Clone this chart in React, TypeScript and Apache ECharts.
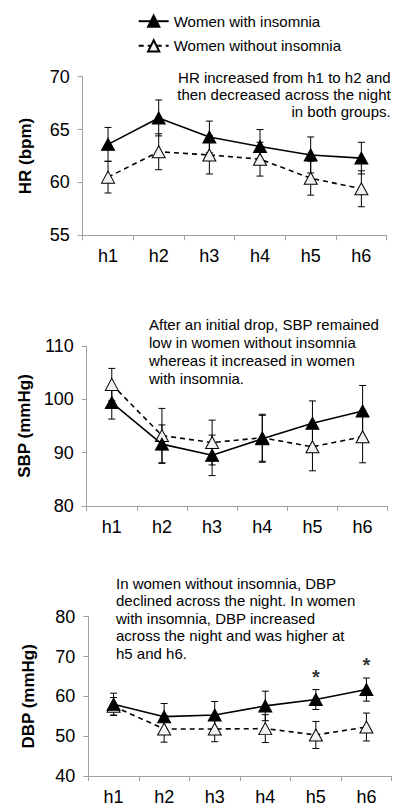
import React, { useEffect, useRef } from 'react';
import * as echarts from 'echarts';

const hours = ['h1', 'h2', 'h3', 'h4', 'h5', 'h6'];
const seriesNames = ['Women with insomnia', 'Women without insomnia'];

const hrWith = [63.6, 66.1, 64.3, 63.4, 62.6, 62.3];
const hrWithErr = [1.6, 1.7, 1.5, 1.6, 1.7, 1.5];
const hrWithout = [60.5, 62.9, 62.6, 62.2, 60.4, 59.4];
const hrWithoutErr = [1.5, 1.7, 1.8, 1.6, 1.6, 1.7];

const sbpWith = [99.4, 91.6, 89.5, 92.6, 95.5, 97.8];
const sbpWithErr = [3.1, 3.6, 3.8, 4.4, 4.2, 4.8];
const sbpWithout = [102.8, 93.2, 91.9, 92.8, 91.1, 93.0];
const sbpWithoutErr = [3.0, 5.1, 4.2, 4.4, 4.5, 4.9];

const dbpWith = [58.0, 54.9, 55.3, 57.6, 59.2, 61.7];
const dbpWithErr = [2.8, 3.3, 3.4, 3.7, 2.5, 2.9];
const dbpWithout = [57.5, 51.8, 51.8, 51.9, 50.3, 52.3];
const dbpWithoutErr = [2.2, 3.3, 3.2, 3.5, 3.4, 3.5];
const dbpSignificance = ['', '', '', '', '*', '*'];

const yNames = ['HR (bpm)', 'SBP (mmHg)', 'DBP (mmHg)'];
const yMin = [55, 80, 40];
const yMax = [70, 110, 80];
const yInterval = [5, 10, 10];

const notes = [
  'HR increased from h1 to h2 and\nthen decreased across the night\nin both groups.',
  'After an initial drop, SBP remained\nlow in women without insomnia\nwhereas it increased in women\nwith insomnia.',
  'In women without insomnia, DBP\ndeclined across the night. In women\nwith insomnia, DBP increased\nacross the night and was higher at\nh5 and h6.',
];

const FONT = '"Liberation Sans", Arial, sans-serif';

function errorSeries(gridIdx: number, values: number[], errs: number[]) {
  return {
    type: 'custom',
    name: 'err' + gridIdx,
    xAxisIndex: gridIdx,
    yAxisIndex: gridIdx,
    z: 1,
    silent: true,
    data: values.map((v, i) => [i, v - errs[i], v + errs[i]]),
    encode: { x: 0, y: [1, 2] },
    renderItem: (params: any, api: any) => {
      const x = api.value(0);
      const lo = api.coord([x, api.value(1)]);
      const hi = api.coord([x, api.value(2)]);
      const w = 3.5;
      const st = { stroke: '#000', lineWidth: 1 };
      return {
        type: 'group',
        children: [
          { type: 'line', shape: { x1: lo[0], y1: lo[1], x2: hi[0], y2: hi[1] }, style: st },
          { type: 'line', shape: { x1: lo[0] - w, y1: lo[1], x2: lo[0] + w, y2: lo[1] }, style: st },
          { type: 'line', shape: { x1: hi[0] - w, y1: hi[1], x2: hi[0] + w, y2: hi[1] }, style: st },
        ],
      };
    },
  };
}

function lineSeries(gridIdx: number, values: number[], filled: boolean) {
  return {
    type: 'line',
    name: filled ? seriesNames[0] : seriesNames[1],
    xAxisIndex: gridIdx,
    yAxisIndex: gridIdx,
    z: filled ? 4 : 3,
    data: values,
    symbol: 'triangle',
    symbolSize: [13, 12],
    lineStyle: { color: '#000', width: 1.6, type: filled ? 'solid' : [5, 4] },
    itemStyle: filled
      ? { color: '#000', borderColor: '#000', borderWidth: 1 }
      : { color: '#f2f2f2', borderColor: '#000', borderWidth: 1 },
    emphasis: { disabled: true },
  };
}

export default function App() {
  const ref = useRef<HTMLDivElement>(null);
  useEffect(() => {
    if (!ref.current) return;
    const chart = echarts.init(ref.current, undefined, { renderer: 'svg' });
    const grids = [
      { left: 82.7, right: 9.3, top: 76.7, height: 158.6 },
      { left: 86.7, right: 8.3, top: 346, height: 160 },
      { left: 88.3, right: 4.3, top: 616.7, height: 159.3 },
    ];
    const nameGaps = [49, 53, 51];
    const axisColor = '#a0a0a0';
    const xAxes = grids.map((_, i) => ({
      type: 'category',
      gridIndex: i,
      data: hours,
      boundaryGap: true,
      axisLine: { lineStyle: { color: axisColor, width: 1 } },
      axisTick: { show: true, length: 5, lineStyle: { color: axisColor } },
      axisLabel: { fontSize: 18, color: '#000', margin: 12, fontFamily: FONT },
    }));
    const yAxes = grids.map((_, i) => ({
      type: 'value',
      gridIndex: i,
      min: yMin[i],
      max: yMax[i],
      interval: yInterval[i],
      name: yNames[i],
      nameLocation: 'middle',
      nameGap: nameGaps[i],
      nameTextStyle: { fontSize: 17, fontWeight: 'bold', color: '#000', fontFamily: FONT },
      splitLine: { show: false },
      axisLine: { show: true, lineStyle: { color: axisColor, width: 1 } },
      axisTick: { show: true, length: 5, lineStyle: { color: axisColor } },
      axisLabel: { fontSize: 18, color: '#000', margin: 13, fontFamily: FONT },
    }));
    const sigData = dbpWith.map((v, i) => (dbpSignificance[i] ? [i, v + dbpWithErr[i]] : null)).filter(Boolean);
    chart.setOption({
      animation: false,
      textStyle: { fontFamily: FONT },
      legend: {
        data: seriesNames,
        orient: 'vertical',
        left: 132.7,
        top: 8.7,
        itemWidth: 30,
        itemHeight: 14,
        itemGap: 9.6,
        textStyle: { fontSize: 15, color: '#000', fontFamily: FONT },
        selectedMode: false,
      },
      grid: grids,
      xAxis: xAxes,
      yAxis: yAxes,
      series: [
        errorSeries(0, hrWithout, hrWithoutErr),
        errorSeries(0, hrWith, hrWithErr),
        lineSeries(0, hrWithout, false),
        lineSeries(0, hrWith, true),
        errorSeries(1, sbpWithout, sbpWithoutErr),
        errorSeries(1, sbpWith, sbpWithErr),
        lineSeries(1, sbpWithout, false),
        lineSeries(1, sbpWith, true),
        errorSeries(2, dbpWithout, dbpWithoutErr),
        errorSeries(2, dbpWith, dbpWithErr),
        lineSeries(2, dbpWithout, false),
        lineSeries(2, dbpWith, true),
        {
          type: 'scatter',
          name: 'significance',
          xAxisIndex: 2,
          yAxisIndex: 2,
          symbolSize: 0,
          silent: true,
          data: sigData,
          label: {
            show: true,
            position: 'top',
            distance: 3,
            formatter: () => '*',
            fontSize: 20,
            fontWeight: 'bold',
            color: '#000',
            fontFamily: FONT,
          },
        },
      ],
      graphic: [
        {
          type: 'text',
          x: 390.7,
          y: 68.7,
          style: {
            text: notes[0],
            align: 'right',
            verticalAlign: 'top',
            fontSize: 15,
            lineHeight: 17.3,
            fill: '#000',
            fontFamily: FONT,
          },
        },
        {
          type: 'text',
          x: 149,
          y: 316,
          style: {
            text: notes[1],
            align: 'left',
            verticalAlign: 'top',
            fontSize: 15,
            lineHeight: 17.8,
            fill: '#000',
            fontFamily: FONT,
          },
        },
        {
          type: 'text',
          x: 116,
          y: 574.5,
          style: {
            text: notes[2],
            align: 'left',
            verticalAlign: 'top',
            fontSize: 15,
            lineHeight: 17.5,
            fill: '#000',
            fontFamily: FONT,
          },
        },
      ],
    });
    return () => chart.dispose();
  }, []);
  return (
    <div
      ref={ref}
      style={{ position: 'fixed', left: 0, top: 0, width: 396, height: 808, background: '#fff' }}
    />
  );
}
